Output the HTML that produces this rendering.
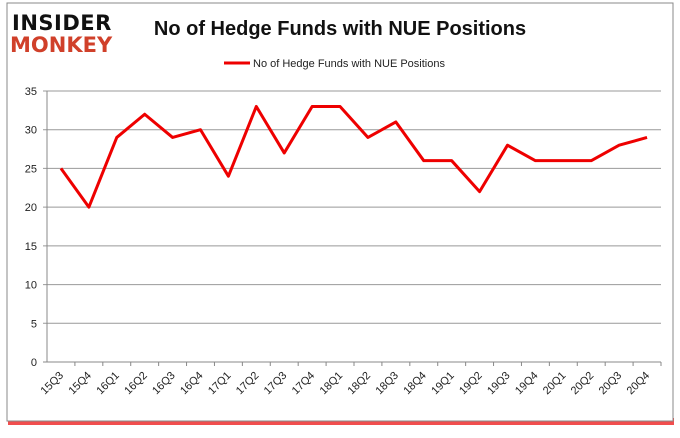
<!DOCTYPE html>
<html><head><meta charset="utf-8"><style>
body{margin:0;background:#fff;width:680px;height:433px;overflow:hidden;font-family:"Liberation Sans",sans-serif}
</style></head><body>
<svg width="680" height="433" xmlns="http://www.w3.org/2000/svg">
<rect x="8" y="418" width="666" height="7" fill="#e22" opacity="0.8"/>
<rect x="7" y="3" width="666" height="418" fill="#fff" stroke="#888"/>
<g>
<text x="12" y="30" font-size="21" font-weight="bold" fill="#111" font-family="'DejaVu Sans',sans-serif" letter-spacing="0.5">INSIDER</text>
<text x="10" y="52" font-size="21" font-weight="bold" fill="#d0402a" font-family="'DejaVu Sans',sans-serif">MONKEY</text>
</g>
<text x="340" y="35" text-anchor="middle" font-size="20" font-weight="bold" fill="#111">No of Hedge Funds with NUE Positions</text>
<line x1="224" y1="63" x2="250" y2="63" stroke="#e00" stroke-width="3"/>
<text x="253" y="67" font-size="11" fill="#222">No of Hedge Funds with NUE Positions</text>
<g id="grid"></g><g id="xa"></g>
<polyline id="line" fill="none" stroke="#e00" stroke-width="3" stroke-linejoin="round"/>
</svg>
<script>
const categories=["15Q3","15Q4","16Q1","16Q2","16Q3","16Q4","17Q1","17Q2","17Q3","17Q4","18Q1","18Q2","18Q3","18Q4","19Q1","19Q2","19Q3","19Q4","20Q1","20Q2","20Q3","20Q4"];
const values=[25,20,29,32,29,30,24,33,27,33,33,29,31,26,26,22,28,26,26,26,28,29];
const yTicks=[0,5,10,15,20,25,30,35];
const NS="http://www.w3.org/2000/svg";
const L=47,R=661,T=91,B=362,ymax=35;
const step=(R-L)/categories.length;
const y=v=>B-(v/ymax)*(B-T);
const x=i=>L+step*(i+0.5);
const g=document.getElementById('grid'),xa=document.getElementById('xa');
function mk(tag,a,p){const e=document.createElementNS(NS,tag);for(const k in a)e.setAttribute(k,a[k]);p.appendChild(e);return e;}
yTicks.forEach(t=>{
 const l=mk('line',{x1:L-4,x2:R,y1:y(t),y2:y(t),stroke:t===0?'#888':'#999','stroke-width':1},g);
 
 
 const tx=mk('text',{x:L-10,y:y(t)+4,'text-anchor':'end','font-size':11,fill:'#222'},g);
 tx.textContent=t;
 
 
});
const ax=mk('line',{x1:L,x2:L,y1:T,y2:B,stroke:'#888'},g);


categories.forEach((c,i)=>{
 const tk=mk('line',{x1:L+step*(i+1),x2:L+step*(i+1),y1:B,y2:B+4,stroke:'#888'},xa);
 
 
 const cx=x(i)+3,cy=B+14;
 const tx=mk('text',{x:cx,y:cy,'text-anchor':'end','font-size':11,fill:'#222',transform:`rotate(-45 ${cx} ${cy})`},xa);
 tx.textContent=c;
 
 
});
document.getElementById('line').setAttribute('points',values.map((v,i)=>x(i)+','+y(v)).join(' '));
</script>
</body></html>
